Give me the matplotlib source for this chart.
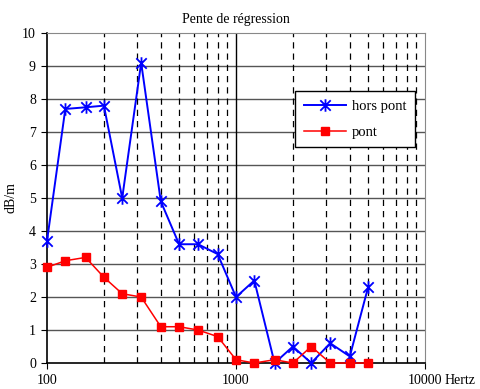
import matplotlib
matplotlib.use("Agg")
import matplotlib.pyplot as plt
from matplotlib.path import Path
from matplotlib.ticker import FixedLocator, NullFormatter

# third-octave bands (Hz)
freqs = [100, 125, 160, 200, 250, 315, 400, 500, 630, 800,
         1000, 1250, 1600, 2000, 2500, 3150, 4000, 5000]
hors_pont = [3.7, 7.7, 7.75, 7.8, 5.0, 9.1, 4.9, 3.6, 3.6, 3.3,
             2.0, 2.5, 0.0, 0.5, 0.0, 0.6, 0.2, 2.3]
pont = [2.9, 3.1, 3.2, 2.6, 2.1, 2.0, 1.1, 1.1, 1.0, 0.8,
        0.1, 0.0, 0.1, 0.0, 0.5, 0.0, 0.0, 0.0]
x_ticks = [100, 1000, 10000]
x_labels = ["100", "1000", "10000"]

plt.rcParams['font.family'] = ['Liberation Serif', 'DejaVu Serif']

# Excel style star: an X with a vertical bar
star = Path([(-1, -1), (1, 1), (-1, 1), (1, -1), (0, -1.2), (0, 1.2)],
            [Path.MOVETO, Path.LINETO, Path.MOVETO, Path.LINETO,
             Path.MOVETO, Path.LINETO])

fig = plt.figure(figsize=(4.81, 3.89), dpi=100)
ax = fig.add_axes([0.0977, 0.0668, 0.7859, 0.8482])

ax.set_xscale('log')
ax.set_xlim(100, 10000)
ax.set_ylim(0, 10)

# grid: solid horizontal, dashed vertical at minor decades
for y in range(1, 10):
    ax.axhline(y, color='#555555', lw=1.0, zorder=1)
minors = [m * d for d in (100, 1000) for m in range(2, 10)]
for xv in minors:
    ax.axvline(xv, color='black', lw=0.9, ls=(0, (5, 4)), zorder=1)
ax.axvline(1000, color='black', lw=1.0, zorder=1)

ax.plot(freqs, hors_pont, color='#0000ff', lw=1.4, marker=star,
        markersize=9, markeredgewidth=1.3, label='hors pont', zorder=3,
        clip_on=False)
ax.plot(freqs, pont, color='#ff0000', lw=1.1, marker='s',
        markersize=6, label='pont', zorder=3, clip_on=False)

ax.xaxis.set_major_locator(FixedLocator(x_ticks))
ax.set_xticklabels(x_labels)
ax.xaxis.set_minor_formatter(NullFormatter())
ax.tick_params(axis='x', which='minor', length=0)
ax.set_yticks(range(0, 11))
ax.tick_params(axis='both', which='major', direction='out', length=4,
               labelsize=10, color='black', pad=4)
ax.annotate('Hertz', xy=(10000, 0), xycoords='data', xytext=(14, -8),
            textcoords='offset points', fontsize=10, ha='left', va='top')

for side in ('top', 'right'):
    ax.spines[side].set_color('#888888')
for side in ('left', 'bottom'):
    ax.spines[side].set_color('black')
    ax.spines[side].set_linewidth(1.2)

ax.set_title('Pente de régression', fontsize=10, pad=7)
ax.set_ylabel('dB/m', fontsize=10)
ax.yaxis.set_label_coords(-0.077, 0.5)

leg = ax.legend(loc='upper left', bbox_to_anchor=(0.656, 0.824),
                borderaxespad=0, frameon=True, fancybox=False,
                edgecolor='black', framealpha=1, fontsize=10.5,
                borderpad=0.6, labelspacing=0.85, handlelength=2.9,
                handletextpad=0.4)
leg.get_frame().set_linewidth(1.0)

plt.savefig('out.png', dpi=100)
